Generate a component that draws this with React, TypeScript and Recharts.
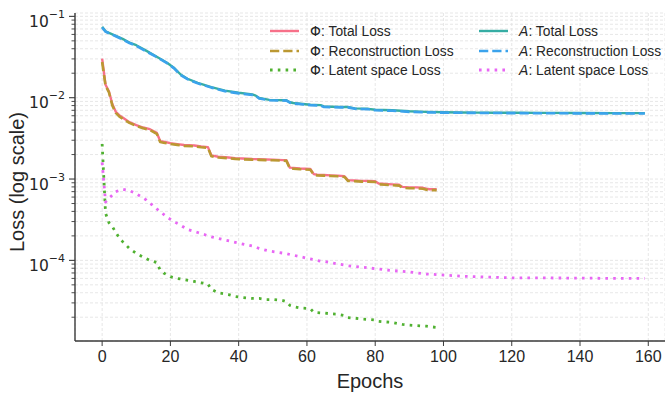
import { LineChart, Line, XAxis, YAxis, CartesianGrid, Label } from 'recharts';

// Φ model, logged on a sparse set of epochs (steps kept as before/after pairs)
const phiEpochs = [0, 1, 2, 3, 4, 5, 6, 8, 10, 12, 14, 16, 17, 18, 20, 22, 24, 27, 29, 31, 32, 34, 37, 39, 41, 44, 46, 48, 50, 53, 54, 55, 56, 58, 61, 62, 63, 65, 67, 69, 71, 72, 74, 76, 78, 80, 81, 83, 85, 87, 88, 90, 92, 94, 95, 96, 98];
const phiTotal = [0.0302, 0.0144, 0.0119, 0.0083, 0.0067, 0.0061, 0.0057, 0.005, 0.0046, 0.0043, 0.0041, 0.0037, 0.00293, 0.00287, 0.00276, 0.00269, 0.00262, 0.00258, 0.00251, 0.00247, 0.00195, 0.00188, 0.00184, 0.00181, 0.00179, 0.00176, 0.00175, 0.00174, 0.00173, 0.00171, 0.0017, 0.00138, 0.00137, 0.00135, 0.00133, 0.00115, 0.00113, 0.00112, 0.00111, 0.0011, 0.00108, 0.00097, 0.00096, 0.00095, 0.00095, 0.00094, 0.00088, 0.00087, 0.00086, 0.00085, 0.0008, 0.00079, 0.00079, 0.00078, 0.00076, 0.00075, 0.00075];
const phiRecon = [0.0275, 0.014, 0.0116, 0.008, 0.0065, 0.0059, 0.0055, 0.0049, 0.0045, 0.0042, 0.004, 0.0036, 0.00285, 0.0028, 0.0027, 0.00263, 0.00256, 0.00252, 0.00246, 0.00242, 0.00191, 0.00184, 0.0018, 0.00177, 0.00175, 0.00173, 0.00172, 0.00171, 0.0017, 0.00168, 0.00167, 0.00135, 0.00134, 0.00132, 0.0013, 0.00113, 0.00111, 0.0011, 0.00109, 0.00108, 0.00106, 0.00095, 0.00094, 0.00093, 0.00093, 0.00092, 0.00086, 0.00085, 0.00084, 0.00083, 0.00078, 0.00077, 0.00077, 0.00076, 0.00074, 0.00073, 0.00073];
const phiLatent = [0.0027, 0.00038, 0.00029, 0.00026, 0.00022, 0.00019, 0.00017, 0.00014, 0.000122, 0.00011, 0.0001, 0.000094, 0.000076, 0.00007, 0.000063, 0.00006, 0.000058, 0.000055, 0.000053, 0.000051, 0.000044, 0.00004, 0.000038, 0.000036, 0.000035, 0.000034, 0.000034, 0.000033, 0.000033, 0.000032, 0.000031, 0.000028, 0.000027, 0.000026, 0.0000255, 0.000023, 0.0000228, 0.0000225, 0.000022, 0.0000218, 0.000021, 0.0000198, 0.0000195, 0.000019, 0.0000188, 0.0000185, 0.0000178, 0.0000175, 0.0000173, 0.0000166, 0.0000163, 0.000016, 0.0000158, 0.0000156, 0.0000155, 0.0000153, 0.000015];

// A model
const aEpochs = [0, 1, 2, 4, 6, 8, 10, 13, 16, 19, 21, 23, 25, 28, 32, 36, 40, 44, 45, 46, 49, 54, 55, 56, 61, 64, 65, 70, 72, 74, 78, 80, 85, 90, 95, 100, 105, 110, 115, 120, 130, 140, 150, 159];
const aTotal = [0.0746, 0.0655, 0.0626, 0.0577, 0.0528, 0.0477, 0.0442, 0.0376, 0.0319, 0.0269, 0.0234, 0.0193, 0.0171, 0.0152, 0.0135, 0.0122, 0.0115, 0.011, 0.0106, 0.0099, 0.0094, 0.0093, 0.0088, 0.0086, 0.0082, 0.0081, 0.0078, 0.0077, 0.0077, 0.0074, 0.0073, 0.0071, 0.007, 0.0068, 0.0067, 0.00662, 0.00658, 0.00656, 0.00654, 0.00652, 0.0065, 0.00648, 0.00646, 0.00646];
const aRecon = [0.073, 0.065, 0.062, 0.057, 0.052, 0.047, 0.0435, 0.037, 0.0315, 0.0266, 0.0231, 0.019, 0.0169, 0.015, 0.0133, 0.012, 0.0113, 0.0108, 0.0105, 0.0098, 0.0093, 0.0092, 0.0087, 0.0085, 0.0081, 0.008, 0.0077, 0.0076, 0.0076, 0.0073, 0.0072, 0.007, 0.0069, 0.0067, 0.0066, 0.00655, 0.00652, 0.0065, 0.00648, 0.00646, 0.00644, 0.00642, 0.0064, 0.0064];
const aLatent = [0.0016, 0.00052, 0.00058, 0.0007, 0.00075, 0.00072, 0.00066, 0.00055, 0.00043, 0.00034, 0.0003, 0.00027, 0.00024, 0.00022, 0.000195, 0.000178, 0.000163, 0.00015, 0.000146, 0.00014, 0.00013, 0.000121, 0.000118, 0.000116, 0.000104, 0.000098, 0.000097, 0.000089, 0.000086, 0.000084, 0.000081, 0.000079, 0.000075, 0.000072, 0.000068, 0.000066, 0.000064, 0.000063, 0.000062, 0.000061, 0.0000608, 0.0000605, 0.00006, 0.00006];

const xTicks = [0, 20, 40, 60, 80, 100, 120, 140, 160];
const yMajor = [1e-4, 1e-3, 1e-2, 1e-1];

const Y_MIN = 1.02e-5;
const Y_MAX = 0.11;

// major + minor log ticks inside the domain
const yTicks: number[] = [];
for (let e = -5; e <= -1; e++) {
  for (let k = 1; k <= 9; k++) {
    const v = Number((k * Math.pow(10, e)).toPrecision(3));
    if (v >= Y_MIN && v <= Y_MAX) yTicks.push(v);
  }
}

const phiData = phiEpochs.map((epoch, i) => ({
  epoch,
  total: phiTotal[i],
  recon: phiRecon[i],
  latent: phiLatent[i],
}));

const aData = aEpochs.map((epoch, i) => ({
  epoch,
  total: aTotal[i],
  recon: aRecon[i],
  latent: aLatent[i],
}));

const SOLID = undefined;
const DASHED = '9.25 4';
const DOTTED = '2.6 5.2';

const series = [
  { id: 'phiTotal', data: phiData, key: 'total', color: '#f77189', dash: SOLID, w: 2.4, prefix: 'Φ', italic: false, label: 'Total Loss' },
  { id: 'phiRecon', data: phiData, key: 'recon', color: '#bb9832', dash: DASHED, w: 2.6, prefix: 'Φ', italic: false, label: 'Reconstruction Loss' },
  { id: 'phiLatent', data: phiData, key: 'latent', color: '#50b131', dash: DOTTED, w: 2.8, prefix: 'Φ', italic: false, label: 'Latent space Loss' },
  { id: 'aTotal', data: aData, key: 'total', color: '#36ada4', dash: SOLID, w: 2.4, prefix: 'A', italic: true, label: 'Total Loss' },
  { id: 'aRecon', data: aData, key: 'recon', color: '#3ba3ec', dash: DASHED, w: 2.6, prefix: 'A', italic: true, label: 'Reconstruction Loss' },
  { id: 'aLatent', data: aData, key: 'latent', color: '#e866f4', dash: DOTTED, w: 2.8, prefix: 'A', italic: true, label: 'Latent space Loss' },
];

const TEXT = '#262626';
const SPINE = '#3a3a3a';
const SANS = '"Liberation Sans", Arial, sans-serif';
const MATH = '"DejaVu Sans", sans-serif';

function LogTick(props: any) {
  const { x, y, payload } = props;
  const v = payload.value as number;
  const exp = Math.round(Math.log10(v));
  const major = yMajor.some((m) => Math.abs(m - v) / m < 1e-6);
  return (
    <g>
      <line x1={x - (major ? 6 : 3.5)} x2={x} y1={y} y2={y} stroke={SPINE} strokeWidth={major ? 1.1 : 0.9} />
      {major && (
        <text x={x - 10} y={y + 10.5} textAnchor="end" fill={TEXT} fontFamily={MATH} fontSize={15.5}>
          <tspan>10</tspan>
          <tspan dy={-9} fontSize={11}>{'\u2212' + Math.abs(exp)}</tspan>
        </text>
      )}
    </g>
  );
}

function LegendHandle({ color, dash, w }: { color: string; dash?: string; w: number }) {
  return (
    <svg width={29} height={10} style={{ display: 'block' }}>
      <line x1={0} x2={29} y1={5} y2={5} stroke={color} strokeWidth={w} strokeDasharray={dash} />
    </svg>
  );
}

function ChartLegend() {
  const colX = [270, 479];
  const rowY = [31, 50.5, 70];
  return (
    <>
      {series.map((s, i) => {
        const col = Math.floor(i / 3);
        const row = i % 3;
        return (
          <div
            key={s.id}
            style={{
              position: 'absolute',
              left: colX[col],
              top: rowY[row] - 10,
              height: 20,
              display: 'flex',
              alignItems: 'center',
              whiteSpace: 'nowrap',
              fontFamily: SANS,
              fontSize: 13.8,
              color: TEXT,
            }}
          >
            <LegendHandle color={s.color} dash={s.dash} w={s.w} />
            <span style={{ marginLeft: 11 }}>
              <span style={{ fontFamily: MATH, fontStyle: s.italic ? 'italic' : 'normal' }}>{s.prefix}</span>
              {': ' + s.label}
            </span>
          </div>
        );
      })}
    </>
  );
}

export default function App() {
  return (
    <div style={{ position: 'relative', width: 665, height: 393, background: '#fff' }}>
      <style>{'body{margin:0;}'}</style>
      <LineChart width={665} height={393} margin={{ top: 13, right: 0, bottom: 0, left: 0 }}>
        <CartesianGrid stroke="#e4e4e4" strokeDasharray="3 2" strokeWidth={0.9} />
        <XAxis
          type="number"
          dataKey="epoch"
          domain={[-7.95, 164.9]}
          ticks={xTicks}
          allowDataOverflow
          height={52}
          tickSize={5}
          tickMargin={5}
          tick={{ fill: TEXT, fontSize: 16, fontFamily: SANS }}
          tickLine={{ stroke: SPINE }}
          axisLine={{ stroke: SPINE, strokeWidth: 1.4 }}
        >
          <Label value="Epochs" position="insideBottom" offset={5} fill={TEXT} fontSize={20} fontFamily={SANS} />
        </XAxis>
        <YAxis
          type="number"
          scale="log"
          domain={[Y_MIN, Y_MAX]}
          allowDataOverflow
          ticks={yTicks}
          interval={0}
          width={75}
          tickSize={0}
          tickMargin={0}
          tickLine={false}
          tick={<LogTick />}
          axisLine={{ stroke: SPINE, strokeWidth: 1.4 }}
          label={{
            content: () => (
              <text
                transform="translate(17,182) rotate(-90)"
                textAnchor="middle"
                dominantBaseline="central"
                fill={TEXT}
                fontSize={20}
                fontFamily={SANS}
              >
                Loss (log scale)
              </text>
            ),
          }}
        />
        {series.map((s) => (
          <Line
            key={s.id}
            data={s.data}
            dataKey={s.key}
            type="linear"
            stroke={s.color}
            strokeWidth={s.w}
            strokeDasharray={s.dash}
            strokeLinejoin="round"
            dot={false}
            activeDot={false}
            isAnimationActive={false}
          />
        ))}
      </LineChart>
      <ChartLegend />
    </div>
  );
}
